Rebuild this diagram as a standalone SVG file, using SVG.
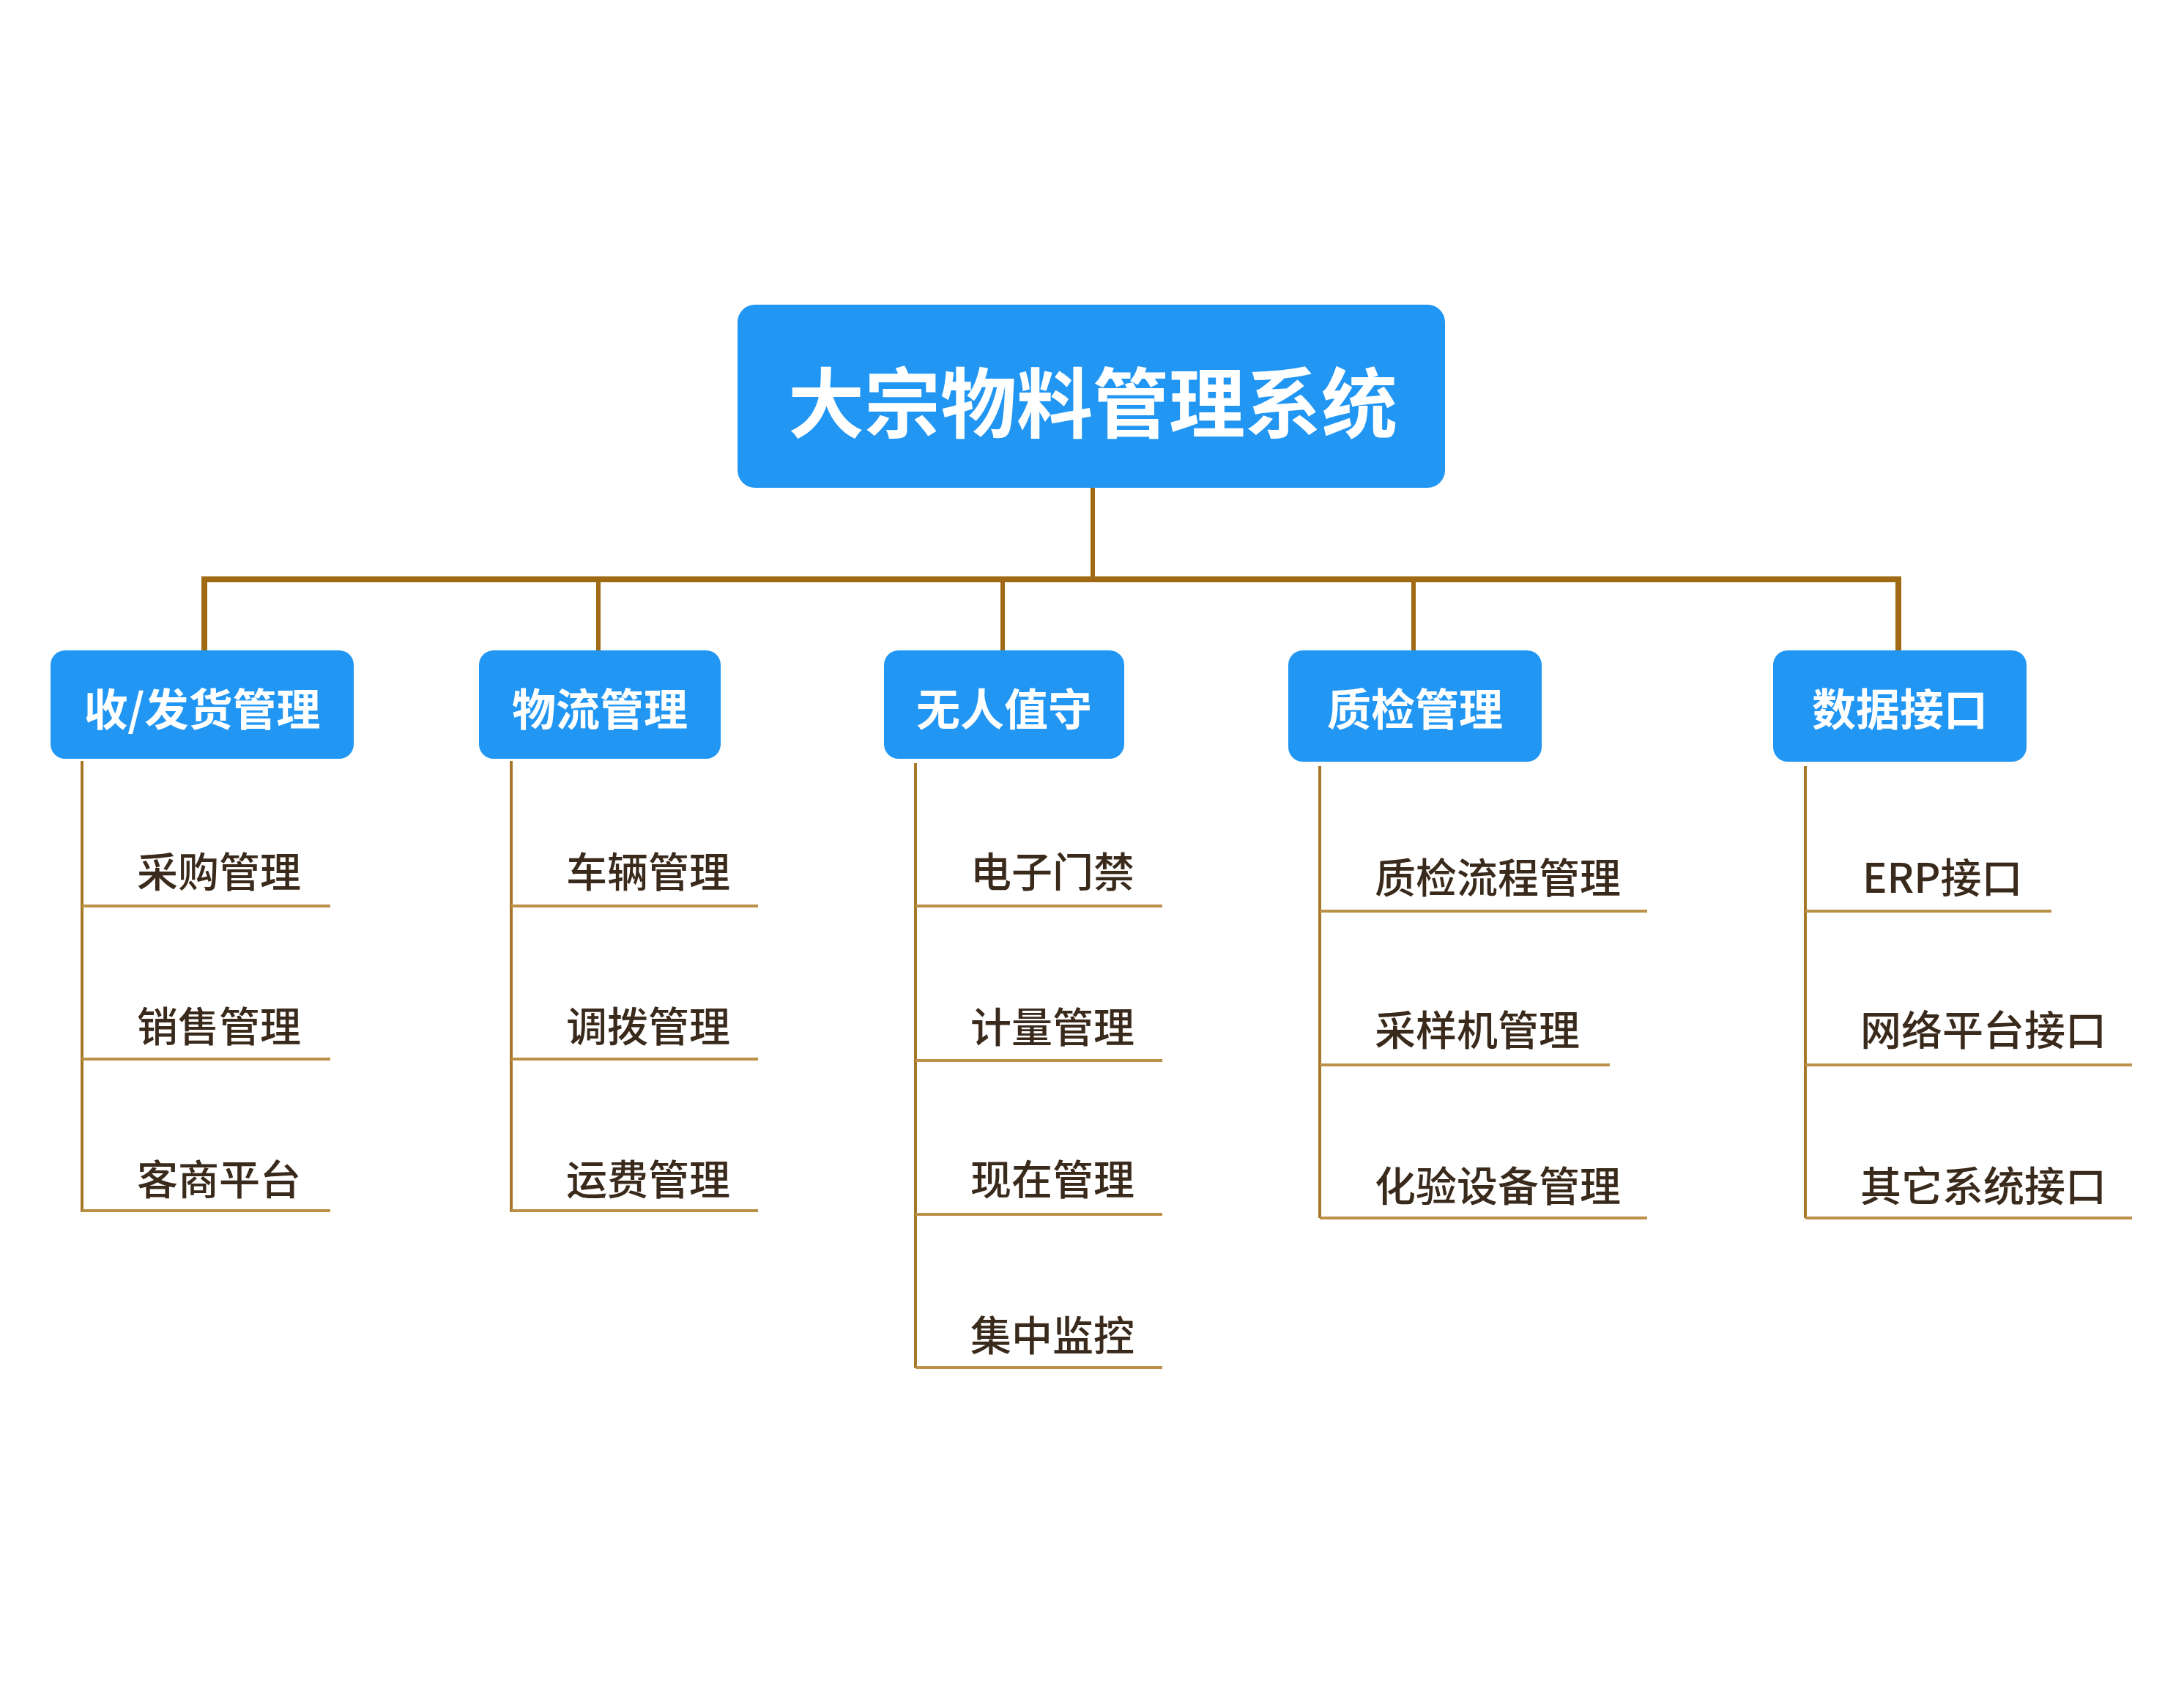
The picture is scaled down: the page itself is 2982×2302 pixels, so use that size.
<svg xmlns="http://www.w3.org/2000/svg" width="2982" height="2302" viewBox="0 0 2982 2302">
<style>
.box{fill:#2196f3}
.t0{font-family:"Noto Sans CJK SC","Noto Sans",sans-serif;font-weight:bold;fill:#ffffff;text-anchor:middle}
.leaf{font-family:"Noto Sans CJK SC","Noto Sans",sans-serif;font-weight:500;font-size:56px;fill:#3a2a1c}
.bus{stroke:#a06a14;stroke-width:8;fill:none;stroke-linejoin:miter}
.drop{stroke:#a06a14;stroke-width:6;fill:none}
.vl{stroke:#a8782a;stroke-width:4;fill:none}
.hl{stroke:#bb9048;stroke-width:4;fill:none}
</style>
<rect width="2982" height="2302" fill="#ffffff"/>
<g id="connectors">
<path class="drop" d="M1492 666V791"/>
<path class="bus" d="M279 888V791H2592V888"/>
<path class="drop" d="M817 791V888M1369 791V888M1930 791V888"/>
<path class="vl" d="M112 1039V1655M698 1039V1655M1250 1042V1868M1802 1046V1663M2465 1046V1663"/>
<path class="hl" d="M112 1237H451M112 1446H451M112 1653H451"/>
<path class="hl" d="M698 1237H1035M698 1446H1035M698 1653H1035"/>
<path class="hl" d="M1250 1237H1587M1250 1448H1587M1250 1658H1587M1250 1867H1587"/>
<path class="hl" d="M1802 1244H2249M1802 1454H2198M1802 1663H2249"/>
<path class="hl" d="M2465 1244H2801M2465 1454H2911M2465 1663H2911"/>
</g>
<g id="root">
<rect class="box" x="1007" y="416" width="966" height="250" rx="24"/>
<text class="t0" x="1492" y="590" font-size="104">大宗物料管理系统</text>
</g>
<g id="n1">
<rect class="box" x="69" y="888" width="414" height="148" rx="20"/>
<text class="t0" x="276" y="991" font-size="60">收/发货管理</text>
</g>
<g id="n2">
<rect class="box" x="654" y="888" width="330" height="148" rx="20"/>
<text class="t0" x="819" y="991" font-size="60">物流管理</text>
</g>
<g id="n3">
<rect class="box" x="1207" y="888" width="328" height="148" rx="20"/>
<text class="t0" x="1371" y="991" font-size="60">无人值守</text>
</g>
<g id="n4">
<rect class="box" x="1759" y="888" width="346" height="152" rx="20"/>
<text class="t0" x="1932" y="991" font-size="60">质检管理</text>
</g>
<g id="n5">
<rect class="box" x="2421" y="888" width="346" height="152" rx="20"/>
<text class="t0" x="2594" y="991" font-size="60">数据接口</text>
</g>
<g id="g1">
<text class="leaf" x="187" y="1211">采购管理</text>
<text class="leaf" x="187" y="1422">销售管理</text>
<text class="leaf" x="187" y="1631">客商平台</text>
</g>
<g id="g2">
<text class="leaf" x="773" y="1211">车辆管理</text>
<text class="leaf" x="773" y="1422">调拨管理</text>
<text class="leaf" x="773" y="1631">运费管理</text>
</g>
<g id="g3">
<text class="leaf" x="1325" y="1211">电子门禁</text>
<text class="leaf" x="1325" y="1423">计量管理</text>
<text class="leaf" x="1325" y="1631">现在管理</text>
<text class="leaf" x="1325" y="1844">集中监控</text>
</g>
<g id="g4">
<text class="leaf" x="1877" y="1219">质检流程管理</text>
<text class="leaf" x="1877" y="1427">采样机管理</text>
<text class="leaf" x="1877" y="1640">化验设备管理</text>
</g>
<g id="g5">
<text class="leaf" x="2543" y="1219">ERP接口</text>
<text class="leaf" x="2540" y="1427">网络平台接口</text>
<text class="leaf" x="2540" y="1640">其它系统接口</text>
</g>
</svg>
